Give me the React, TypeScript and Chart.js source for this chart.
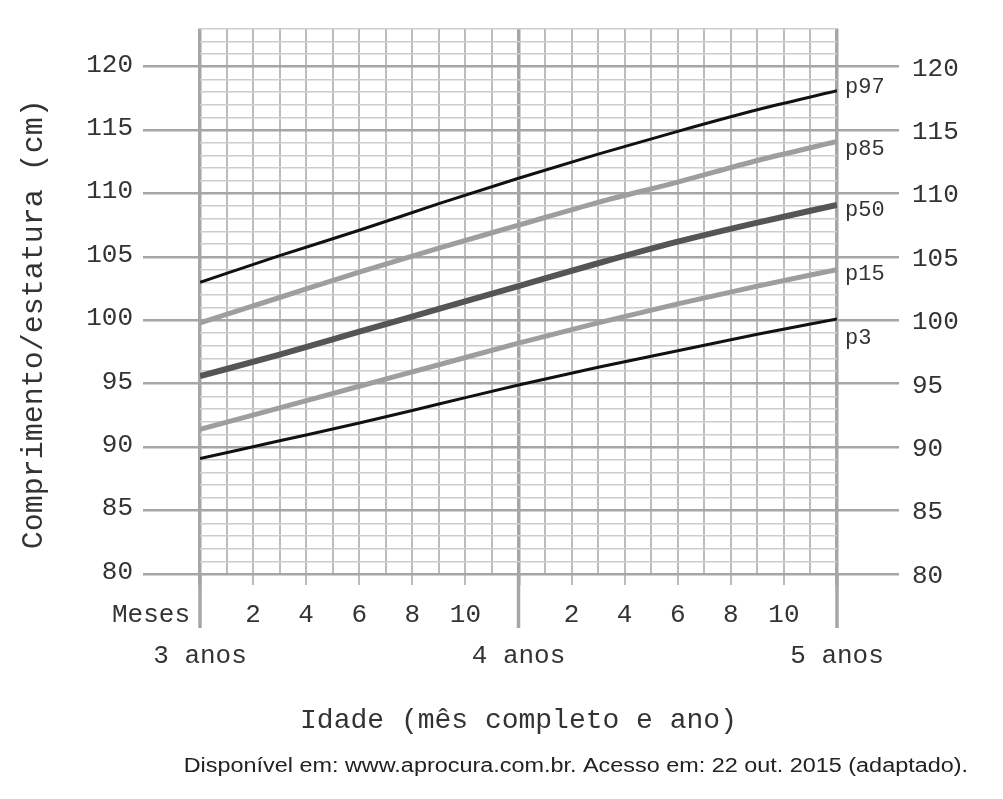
import React, { useEffect, useRef } from 'react';
import Chart from 'chart.js/auto';

// idade em meses a partir dos 3 anos
const months = [0, 3, 6, 9, 12, 15, 18, 21, 24];
const p97 = [103.0, 105.1, 107.1, 109.2, 111.2, 113.1, 114.9, 116.6, 118.1];
const p85 = [99.8, 101.8, 103.8, 105.7, 107.5, 109.3, 110.9, 112.6, 114.1];
const p50 = [95.6, 97.3, 99.1, 100.9, 102.7, 104.5, 106.2, 107.7, 109.1];
const p15 = [91.4, 93.1, 94.8, 96.5, 98.2, 99.8, 101.3, 102.7, 104.0];
const p3 = [89.1, 90.5, 91.9, 93.4, 94.9, 96.3, 97.6, 98.9, 100.1];

const seriesNames = ['p97', 'p85', 'p50', 'p15', 'p3'];
const yearMonths = [0, 12, 24];
const yearLabels = ['3 anos', '4 anos', '5 anos'];

const MONO = "'Liberation Mono', 'DejaVu Sans Mono', monospace";
const SANS = "'Liberation Sans', Arial, sans-serif";
const TEXT = '#333';
const MAJOR = '#a6a6a6';
const MINOR_H = '#cdcdcd';
const MINOR_V = '#bcbcbc';

const isYear = (v: number) => v % 12 === 0;

// label offsets (px) of the p-names next to the line ends
const nameOffsets = [-4, 8, 5, 5, 19];

const extras = {
  id: 'extras',
  afterDraw(chart: any) {
    const { ctx, chartArea, scales } = chart;
    const x = scales.x;
    const y = scales.y;
    ctx.save();

    // year lines continue below the grid
    ctx.strokeStyle = MAJOR;
    ctx.lineWidth = 3.5;
    yearMonths.forEach((m) => {
      const px = x.getPixelForValue(m);
      ctx.beginPath();
      ctx.moveTo(px, chartArea.bottom);
      ctx.lineTo(px, chartArea.bottom + 54);
      ctx.stroke();
    });

    ctx.fillStyle = TEXT;
    ctx.font = `26px ${MONO}`;
    ctx.textAlign = 'right';
    ctx.textBaseline = 'middle';
    ctx.fillText('Meses', x.getPixelForValue(0) - 10, chartArea.bottom + 41);

    // percentile names
    ctx.font = `22px ${MONO}`;
    ctx.textAlign = 'left';
    chart.data.datasets.forEach((ds: any, i: number) => {
      const last = ds.data[ds.data.length - 1];
      ctx.fillText(
        ds.label,
        x.getPixelForValue(last.x) + 8,
        y.getPixelForValue(last.y) + nameOffsets[i]
      );
    });

    // source line (slightly wide type in the original)
    ctx.save();
    ctx.fillStyle = '#222';
    ctx.font = `20px ${SANS}`;
    ctx.textAlign = 'right';
    ctx.textBaseline = 'alphabetic';
    ctx.translate(968, 772);
    ctx.scale(1.17, 1);
    ctx.fillText('Disponível em: www.aprocura.com.br. Acesso em: 22 out. 2015 (adaptado).', 0, 0);
    ctx.restore();

    // y title
    ctx.font = `30px ${MONO}`;
    ctx.textAlign = 'center';
    ctx.translate(34, (chartArea.top + chartArea.bottom) / 2 + 23);
    ctx.rotate(-Math.PI / 2);
    ctx.fillText('Comprimento/estatura (cm)', 0, 0);
    ctx.restore();
  },
};

export default function App() {
  const canvasRef = useRef<HTMLCanvasElement>(null);

  useEffect(() => {
    document.body.style.margin = '0';
    const ctx = canvasRef.current?.getContext('2d');
    let chart: Chart;
    if (ctx) {
      const toPts = (vals: number[]) => vals.map((v, i) => ({ x: months[i], y: v }));
      const all = [p97, p85, p50, p15, p3];
      const colors = ['#111111', '#9e9e9e', '#555555', '#9e9e9e', '#111111'];
      const widths = [3, 5, 6, 5, 3];

      chart = new Chart(ctx, {
        type: 'line',
        data: {
          datasets: all.map((vals, i) => ({
            label: seriesNames[i],
            data: toPts(vals),
            borderColor: colors[i],
            borderWidth: widths[i],
            pointRadius: 0,
            fill: false,
            cubicInterpolationMode: 'monotone' as const,
          })),
        },
        options: {
          responsive: false,
          animation: false,
          layout: { padding: { top: 24, left: 0, right: 35, bottom: 45 } },
          plugins: {
            legend: { display: false },
            tooltip: { enabled: false },
          },
          scales: {
            x: {
              type: 'linear',
              position: 'bottom',
              min: 0,
              max: 24,
              afterFit: (s: any) => { s.height = 60; },
              border: { display: false },
              grid: {
                color: (c: any) => (isYear(c.tick.value) ? MAJOR : MINOR_V),
                lineWidth: (c: any) => (isYear(c.tick.value) ? 3.5 : 2),
                tickLength: 11,
                tickColor: (c: any) => (c.tick.value % 2 === 0 ? (isYear(c.tick.value) ? MAJOR : MINOR_V) : 'rgba(0,0,0,0)'),
              },
              ticks: {
                stepSize: 1,
                autoSkip: false,
                maxRotation: 0,
                padding: 15,
                color: TEXT,
                font: { family: MONO, size: 26 },
                callback: (v: any) => (v % 2 === 0 && !isYear(v) ? String(v % 12) : ''),
              },
            },
            x2: {
              type: 'linear',
              position: 'bottom',
              min: 0,
              max: 24,
              afterFit: (s: any) => { s.height = 120; },
              border: { display: false },
              grid: { display: false, drawTicks: false },
              ticks: {
                stepSize: 12,
                autoSkip: false,
                maxRotation: 0,
                padding: 7,
                color: TEXT,
                font: { family: MONO, size: 26 },
                callback: (v: any) => yearLabels[v / 12] ?? '',
              },
              title: {
                display: true,
                text: 'Idade (mês completo e ano)',
                color: TEXT,
                font: { family: MONO, size: 28 },
                padding: { top: 0, bottom: 17 },
              },
            },
            y: {
              position: 'left',
              min: 80,
              max: 123,
              afterFit: (s: any) => { s.width = 200; },
              border: { display: false },
              grid: {
                color: (c: any) => (c.tick.value % 5 === 0 ? MAJOR : MINOR_H),
                lineWidth: (c: any) => (c.tick.value % 5 === 0 ? 2.5 : 1.5),
                tickLength: 57,
                tickColor: (c: any) => (c.tick.value % 5 === 0 ? MAJOR : 'rgba(0,0,0,0)'),
              },
              ticks: {
                stepSize: 1,
                autoSkip: false,
                padding: 10,
                labelOffset: -2,
                color: TEXT,
                font: { family: MONO, size: 26 },
                callback: (v: any) => (v % 5 === 0 && v <= 120 ? String(v) : ''),
              },
            },
            y2: {
              position: 'right',
              min: 80,
              max: 123,
              afterFit: (s: any) => { s.width = 131; },
              border: { display: false },
              grid: {
                drawOnChartArea: false,
                lineWidth: 2.5,
                tickLength: 62,
                tickColor: (c: any) => (c.tick.value % 5 === 0 ? MAJOR : 'rgba(0,0,0,0)'),
              },
              ticks: {
                stepSize: 1,
                autoSkip: false,
                padding: 13,
                labelOffset: 2,
                color: TEXT,
                font: { family: MONO, size: 26 },
                callback: (v: any) => (v % 5 === 0 && v <= 120 ? String(v) : ''),
              },
            },
          },
        },
        plugins: [extras],
      });
    }
    return () => {
      chart?.destroy();
    };
  }, []);

  return (
    <div style={{ width: 1003, height: 799, background: '#fff' }}>
      <canvas ref={canvasRef} width={1003} height={799} style={{ display: 'block' }}></canvas>
    </div>
  );
}
